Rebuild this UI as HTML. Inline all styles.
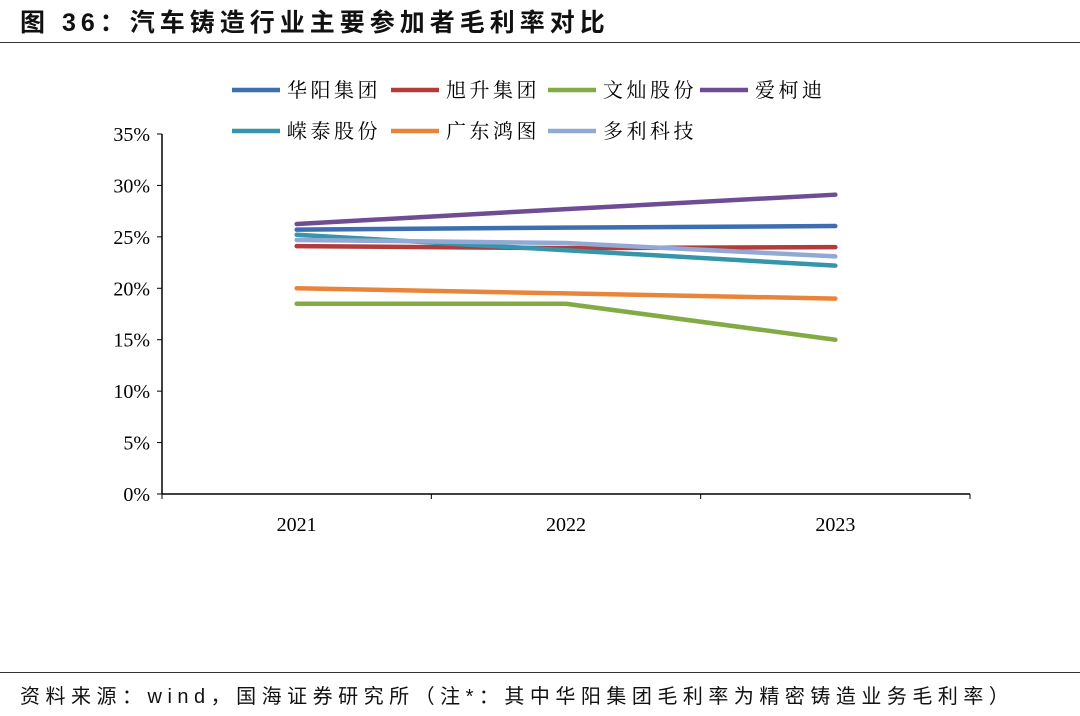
<!DOCTYPE html>
<html><head><meta charset="utf-8">
<style>
body{margin:0;width:1080px;height:716px;background:#fff;overflow:hidden;font-family:"Liberation Sans","Noto Sans CJK SC",sans-serif;}
.title{position:absolute;left:20px;top:3px;font-size:25px;font-weight:bold;color:#111;letter-spacing:5px;white-space:nowrap}
.hr{position:absolute;left:0;width:1080px;height:1px;background:#333}
.src{position:absolute;left:20px;top:680px;font-size:20px;color:#111;letter-spacing:5.5px;white-space:nowrap}
</style></head><body>
<div class="title">图 36：汽车铸造行业主要参加者毛利率对比</div>
<div class="hr" style="top:42px"></div>
<svg id="c" width="1080" height="716" style="position:absolute;left:0;top:0"></svg>
<div class="hr" style="top:672px"></div>
<div class="src">资料来源：wind，国海证券研究所（注*：其中华阳集团毛利率为精密铸造业务毛利率）</div>
<script>
const categories=["2021","2022","2023"];
const seriesNames=["华阳集团","旭升集团","文灿股份","爱柯迪","嵘泰股份","广东鸿图","多利科技"];
const huayang=[25.7,25.9,26.05];
const xusheng=[24.1,23.9,24.0];
const wencan=[18.5,18.5,15.0];
const aikedi=[26.25,27.7,29.1];
const rongtai=[25.2,23.7,22.2];
const hongtu=[20.0,19.5,19.0];
const duoli=[24.7,24.4,23.1];
const yTicks=[0,5,10,15,20,25,30,35];
const colors=["#3d6eb0","#b33b3a","#83aa45","#6e4d94","#3596ab","#e8853a","#92a9d6"];
const allSeries=[huayang,xusheng,wencan,aikedi,rongtai,hongtu,duoli];
const NS="http://www.w3.org/2000/svg";
const svg=document.getElementById('c');
const x0=162,x1=970,yTop=134,yBot=494;
const y=v=>yBot-(v/35)*(yBot-yTop);
const x=i=>x0+(x1-x0)/categories.length*(i+0.5);
function mk(t,a){const e=document.createElementNS(NS,t);for(const k in a)e.setAttribute(k,a[k]);svg.appendChild(e);return e;}
const ax=mk('line',{x1:x0,x2:x1,y1:yBot,y2:yBot,stroke:'#000','stroke-width':1.5});


const ay=mk('line',{x1:x0,x2:x0,y1:yTop,y2:yBot,stroke:'#000','stroke-width':1.5});


yTicks.forEach(v=>{
 mk('line',{x1:x0-5,x2:x0,y1:y(v),y2:y(v),stroke:'#000'});
 const t=mk('text',{x:x0-12,y:y(v)+7,'text-anchor':'end','font-size':20,'font-family':'Liberation Serif, serif'});
 t.textContent=v+'%';
 
 
});
for(let i=0;i<=categories.length;i++){const xx=x0+(x1-x0)/categories.length*i;mk('line',{x1:xx,x2:xx,y1:yBot,y2:yBot+5,stroke:'#000'});}
categories.forEach((c,i)=>{
 const t=mk('text',{x:x(i),y:yBot+37,'text-anchor':'middle','font-size':20,'font-family':'Liberation Serif, serif'});
 t.textContent=c;
 
 
});
allSeries.forEach((s,k)=>{
 const p=mk('polyline',{points:s.map((v,i)=>x(i)+','+y(v)).join(' '),fill:'none',stroke:colors[k],'stroke-width':4.5,'stroke-linecap':'round','stroke-linejoin':'round'});
 
 
});
const lx=[232,391,548,700];
seriesNames.forEach((n,k)=>{
 const r=Math.floor(k/4),c=k%4,ly=r?131:90;
 const g=document.createElementNS(NS,'g');svg.appendChild(g);
 
 
 const l=document.createElementNS(NS,'line');
 [['x1',lx[c]],['x2',lx[c]+48],['y1',ly],['y2',ly],['stroke',colors[k]],['stroke-width',4.5]].forEach(a=>l.setAttribute(a[0],a[1]));
 g.appendChild(l);
 const t=document.createElementNS(NS,'text');
 t.setAttribute('x',lx[c]+55);t.setAttribute('y',ly+7);t.setAttribute('font-size',20);
 t.setAttribute('letter-spacing','3.5');
 t.setAttribute('font-family','Noto Serif CJK SC, serif');
 t.textContent=n;g.appendChild(t);
});
</script>
</body></html>
